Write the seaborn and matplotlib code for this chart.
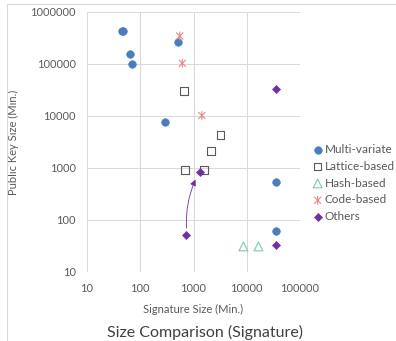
import seaborn as sns
import matplotlib.pyplot as plt
import matplotlib.path as mpath
from matplotlib.lines import Line2D
import pandas as pd

# values (signature size, public key size)
multi_x = [45, 48, 65, 70, 506, 292, 34700, 34700]
multi_y = [430000, 430000, 154000, 100000, 268000, 7570, 537, 62]
lattice_x = [656, 3230, 2120, 685, 1570]
lattice_y = [30300, 4260, 2100, 912, 912]
hash_x = [8650, 16600]
hash_y = [31, 31]
code_x = [552, 617, 1435]
code_y = [346000, 103000, 10200]
others_x = [34700, 1315, 738, 34700]
others_y = [32600, 850, 51, 33]

arrow_from = (738, 70)
arrow_to = (1090, 600)

ticks = [10, 100, 1000, 10000, 100000]
yticks = [10, 100, 1000, 10000, 100000, 1000000]

sns.set_style("white")
plt.rcParams['font.family'] = ['Lato', 'DejaVu Sans']

Code = mpath.Path
star = Code([(-1, -1), (1, 1), (-1, 1), (1, -1), (0, -1.25), (0, 1.25)],
            [Code.MOVETO, Code.LINETO, Code.MOVETO, Code.LINETO, Code.MOVETO, Code.LINETO])

fig = plt.figure(figsize=(3.96, 3.41), dpi=100)
ax = fig.add_axes([87 / 396, 1 - 272 / 341, 213 / 396, 260 / 341])

groups = [
    ("Multi-variate", multi_x, multi_y, dict(marker="o", s=30, color="#4A7EBB", edgecolor="#4A7EBB")),
    ("Lattice-based", lattice_x, lattice_y, dict(marker="s", s=30, color="#595959", edgecolor="#595959",
                                                 facecolor="none", linewidth=0.8)),
    ("Hash-based", hash_x, hash_y, dict(marker="^", s=40, color="#7CCBA8", edgecolor="#7CCBA8",
                                        facecolor="none", linewidth=0.8)),
    ("Code-based", code_x, code_y, dict(marker=star, s=40, color="#E8888A", edgecolor="#E8888A",
                                        facecolor="none", linewidth=0.8)),
    ("Others", others_x, others_y, dict(marker="D", s=18, color="#7030A0", edgecolor="#7030A0")),
]
for name, xs, ys, style in groups:
    df = pd.DataFrame({"x": xs, "y": ys})
    sns.scatterplot(data=df, x="x", y="y", ax=ax, label=name, zorder=3, **style)

ax.annotate("", xy=arrow_to, xytext=arrow_from,
            arrowprops=dict(arrowstyle="-|>", color="#7030A0", lw=0.6,
                            connectionstyle="arc3,rad=-0.12", mutation_scale=9,
                            shrinkA=0, shrinkB=0))

ax.set_xscale("log")
ax.set_yscale("log")
ax.set_xlim(10, 100000)
ax.set_ylim(10, 1000000)
ax.set_xticks(ticks)
ax.set_xticklabels([str(t) for t in ticks])
ax.set_yticks(yticks)
ax.set_yticklabels([str(t) for t in yticks])
ax.minorticks_off()
ax.grid(True, color="#D9D9D9", linewidth=0.75)
for sp in ax.spines.values():
    sp.set_visible(False)
ax.tick_params(length=0, labelsize=8, labelcolor="#595959", pad=8)
ax.set_xlabel("Signature Size (Min.)", fontsize=8, color="#595959", labelpad=7)
ax.set_ylabel("Public Key Size (Min.)", fontsize=8, color="#595959", labelpad=8)

handles, labels = ax.get_legend_handles_labels()
if ax.get_legend():
    ax.get_legend().remove()
fig.legend(handles, labels, loc="upper left", bbox_to_anchor=(307 / 396, 1 - 139 / 341),
           frameon=False, fontsize=8.5, labelcolor="#595959", handletextpad=0.1,
           handlelength=1.0, labelspacing=0.5, borderaxespad=0)

fig.text(205 / 396, 1 - 332 / 341, "Size Comparison (Signature)", ha="center", va="center",
         fontsize=11.5, color="#404040")

fig.add_artist(Line2D([7 / 396, 7 / 396], [0, 1 - 4 / 341], color="#D9D9D9", lw=0.8))
fig.add_artist(Line2D([7 / 396, 1], [1 - 4 / 341, 1 - 4 / 341], color="#D9D9D9", lw=0.8))

fig.savefig("out.png", dpi=100)
